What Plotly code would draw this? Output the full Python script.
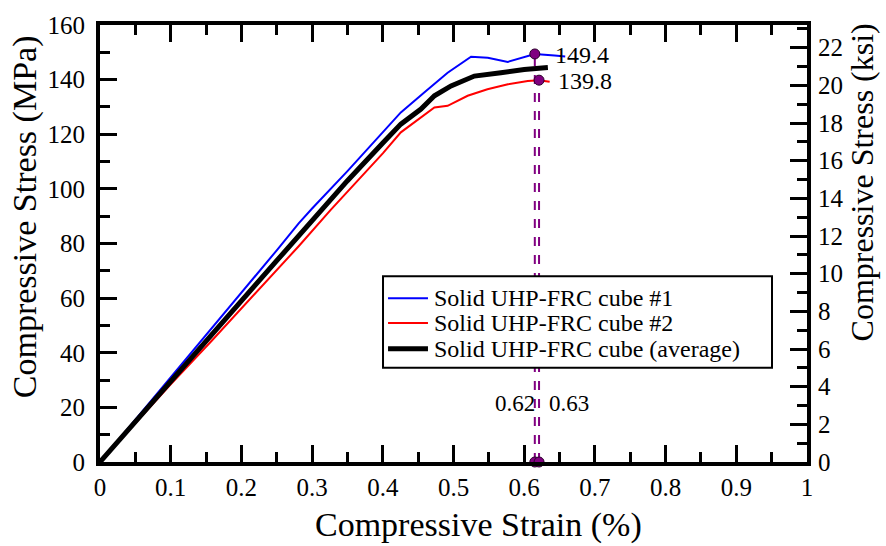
import plotly.graph_objects as go

# ---------------- data ----------------
blue_strain = [0, 0.05, 0.10, 0.144, 0.20, 0.25, 0.281, 0.30, 0.35, 0.40, 0.4255, 0.4586, 0.4917,
               0.5248, 0.5485, 0.5768, 0.61, 0.615, 0.643, 0.658]
blue_stress = [0, 15.5, 31.0, 44.4, 62.0, 77.5, 87.4, 92.8, 106.5, 120.5, 128.0, 135.3, 142.5,
               148.4, 148.0, 146.5, 148.8, 149.4, 148.8, 148.5]

red_strain = [0, 0.05, 0.10, 0.158, 0.20, 0.25, 0.281, 0.326, 0.35, 0.40, 0.4255, 0.454, 0.473,
              0.4917, 0.52, 0.548, 0.577, 0.605, 0.621, 0.636]
red_stress = [0, 14.3, 28.4, 44.4, 56.2, 70.2, 79.0, 92.2, 99.0, 113.0, 120.7, 126.2, 129.8,
              130.4, 134.1, 136.5, 138.3, 139.5, 139.8, 139.2]

avg_strain = [0, 0.05, 0.10, 0.151, 0.20, 0.25, 0.30, 0.312, 0.35, 0.40, 0.4255, 0.454, 0.473,
              0.4965, 0.5295, 0.567, 0.60, 0.6335]
avg_stress = [0, 14.9, 29.6, 44.4, 59.0, 73.7, 88.6, 92.2, 103.0, 116.8, 123.7, 129.2, 134.1,
              137.7, 141.3, 142.5, 143.7, 144.4]

peak_strain = [0.615, 0.621]
peak_stress = [149.4, 139.8]
peak_stress_labels = ["149.4", "139.8"]
peak_strain_labels = ["0.62", "0.63"]

series_names = ["Solid UHP-FRC cube #1", "Solid UHP-FRC cube #2", "Solid UHP-FRC cube (average)"]
series_colors = ["#0000ff", "#ff0000", "#000000"]
series_widths = [2, 2, 5]

x_title = "Compressive Strain (%)"
y_title = "Compressive Stress (MPa)"
y2_title = "Compressive Stress (ksi)"

MPA_PER_KSI = 6.895
Y_MAX = 160

FONT = "Liberation Serif"
PURPLE = "#800080"
TICK_FONT = 25

fig = go.Figure()

# dashed drop lines
for xs, ys in zip(peak_strain, peak_stress):
    fig.add_trace(go.Scatter(x=[xs, xs], y=[0, ys], mode="lines",
                             line=dict(color=PURPLE, width=2, dash="dash"),
                             showlegend=False, hoverinfo="skip"))

curves = [(blue_strain, blue_stress), (red_strain, red_stress), (avg_strain, avg_stress)]
for (xs, ys), name, col, w in zip(curves, series_names, series_colors, series_widths):
    fig.add_trace(go.Scatter(x=xs, y=ys, mode="lines", name=name,
                             line=dict(color=col, width=w), showlegend=False))

# markers at peaks and on the axis
fig.add_trace(go.Scatter(x=peak_strain + peak_strain, y=peak_stress + [0, 0], mode="markers",
                         marker=dict(color=PURPLE, size=10, line=dict(color="#2a002a", width=1)),
                         showlegend=False, hoverinfo="skip", cliponaxis=False))

# secondary-axis helper trace (invisible)
fig.add_trace(go.Scatter(x=[0], y=[0], yaxis="y2", mode="markers",
                         marker=dict(opacity=0), showlegend=False, hoverinfo="skip"))

# value annotations
for xs, ys, lab, sh in zip(peak_strain, peak_stress, peak_stress_labels, [18, 17]):
    fig.add_annotation(x=xs, y=ys, text=lab, showarrow=False, xanchor="left", yanchor="middle",
                       xshift=sh, yshift=-1, font=dict(family=FONT, size=24, color="black"))
fig.add_annotation(x=peak_strain[0], y=21.6, text=peak_strain_labels[0], showarrow=False,
                   xanchor="right", yanchor="middle", xshift=2, font=dict(family=FONT, size=23, color="black"))
fig.add_annotation(x=peak_strain[1], y=21.6, text=peak_strain_labels[1], showarrow=False,
                   xanchor="left", yanchor="middle", xshift=8, font=dict(family=FONT, size=23, color="black"))

# axis titles (placed as in the reference)
fig.add_annotation(xref="paper", yref="paper", x=0.536, y=-0.145, text=x_title, showarrow=False,
                   xanchor="center", yanchor="middle", font=dict(family=FONT, size=34, color="black"))
fig.add_annotation(xref="paper", yref="paper", x=-0.105, y=0.562, text=y_title, showarrow=False,
                   textangle=-90, xanchor="center", yanchor="middle",
                   font=dict(family=FONT, size=34, color="black"))
fig.add_annotation(xref="paper", yref="paper", x=1.078, y=0.64, text=y2_title, showarrow=False,
                   textangle=-90, xanchor="center", yanchor="middle",
                   font=dict(family=FONT, size=32, color="black"))

# legend drawn by hand (box, line samples, texts)
LEG_X0, LEG_X1, LEG_Y0, LEG_Y1 = 0.4003, 0.9505, 0.2159, 0.425
leg_rows = [0.375, 0.3182, 0.2591]
fig.add_shape(type="rect", xref="paper", yref="paper", x0=LEG_X0, x1=LEG_X1, y0=LEG_Y0, y1=LEG_Y1,
              line=dict(color="black", width=2), fillcolor="white", layer="above")
for yr, name, col, w in zip(leg_rows, series_names, series_colors, series_widths):
    fig.add_shape(type="line", xref="paper", yref="paper", x0=0.4074, x1=0.4639, y0=yr, y1=yr,
                  line=dict(color=col, width=w), layer="above")
    fig.add_annotation(xref="paper", yref="paper", x=0.4700, y=yr, text=name, showarrow=False,
                       xanchor="left", yanchor="middle", font=dict(family=FONT, size=24, color="black"))

minor_style = dict(ticks="inside", ticklen=10, tickwidth=3, tickcolor="black")
axis_common = dict(showline=True, linecolor="black", linewidth=4, ticks="inside",
                   tickcolor="black", tickwidth=3, ticklen=17, showgrid=False, zeroline=False,
                   tickfont=dict(family=FONT, size=TICK_FONT, color="black"))

fig.update_layout(
    width=886, height=546,
    margin=dict(l=100, r=79, t=22, b=84),
    plot_bgcolor="white", paper_bgcolor="white",
    font=dict(family=FONT, color="black"),
    showlegend=False,
    xaxis=dict(range=[0, 1], dtick=0.1, mirror="ticks",
               minor=dict(dtick=0.05, **minor_style),
               ticklabelstandoff=0, **axis_common),
    yaxis=dict(range=[0, Y_MAX], dtick=20,
               minor=dict(dtick=10, **minor_style),
               ticklabelstandoff=6, **axis_common),
    yaxis2=dict(range=[0, Y_MAX / MPA_PER_KSI], dtick=2, overlaying="y", side="right",
                minor=dict(dtick=1, **minor_style),
                ticklabelstandoff=2, **axis_common),
)

fig.write_html("out.html")
